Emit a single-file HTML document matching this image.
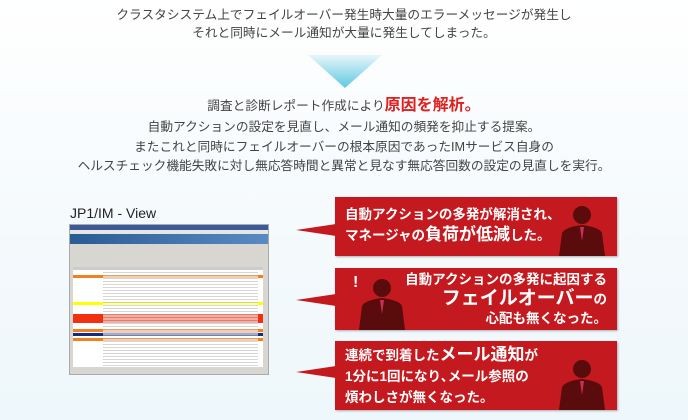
<!DOCTYPE html>
<html><head><meta charset="utf-8"><style>
*{margin:0;padding:0}
body{width:688px;height:420px;overflow:hidden;position:relative;background:linear-gradient(#fff 0%,#f7fbfd 40%,#eef7fb 100%);font-family:"Liberation Sans","Noto Sans CJK JP",sans-serif}
.c{position:absolute;left:0;width:688px;text-align:center;color:#444;font-size:12.7px;line-height:18px;white-space:nowrap}
.box{position:absolute;left:335px;width:282px;background:#c41a1f;box-shadow:1px 1px 2px rgba(0,0,0,.3);color:#fff;font-weight:bold;white-space:nowrap}
.t{position:absolute;font-size:13.5px;line-height:20px}
.big{font-size:17px}
svg{position:absolute}
</style></head><body>
<div class="c" style="top:6px">クラスタシステム上でフェイルオーバー発生時大量のエラーメッセージが発生し</div>
<div class="c" style="top:24px">それと同時にメール通知が大量に発生してしまった。</div>
<svg style="left:300px;top:52px" width="90" height="40"><defs><linearGradient id="g" x1="0" y1="0" x2="0" y2="1"><stop offset="0" stop-color="#e8f6fb"/><stop offset="1" stop-color="#5ec8e0"/></linearGradient></defs><polygon points="8,3 82,3 45,36" fill="url(#g)"/></svg>
<div class="c" style="top:97px">調査と診断レポート作成により<span style="color:#e0201e;font-weight:bold;font-size:16px">原因を解析。</span></div>
<div class="c" style="top:118px">自動アクションの設定を見直し、メール通知の頻発を抑止する提案。</div>
<div class="c" style="top:138px">またこれと同時にフェイルオーバーの根本原因であったIMサービス自身の</div>
<div class="c" style="top:157px">ヘルスチェック機能失敗に対し無応答時間と異常と見なす無応答回数の設定の見直しを実行。</div>
<div style="position:absolute;left:70px;top:205px;font-size:14px;color:#222">JP1/IM - View</div>
<div style="position:absolute;left:69px;top:224px;width:200px;height:151px;background:#d8d6d0;border:1px solid #aaa;box-sizing:border-box;overflow:hidden">
<div style="height:5px;background:#3a5a9a"></div>
<div style="height:4px;background:#e8e6e0"></div>
<div style="height:10px;background:linear-gradient(90deg,#2a5c94,#5a8ac4)"></div>
<div style="position:absolute;left:3px;top:42px;width:190px;height:100px;background:#fff">
<div style="position:absolute;top:0;width:100%;height:3px;background:#ccc"></div>
<div style="position:absolute;top:8px;width:100%;height:3px;background:#f08020"></div>
<div style="position:absolute;top:35px;width:100%;height:3px;background:#ff0"></div>
<div style="position:absolute;top:47px;width:100%;height:9px;background:#f03010"></div>
<div style="position:absolute;top:62px;width:100%;height:3px;background:#f08020"></div>
<div style="position:absolute;top:66px;width:100%;height:3px;background:#1a2a7a"></div>
<div style="position:absolute;top:71px;width:100%;height:3px;background:#f08020"></div>
<div style="position:absolute;left:30px;top:4px;width:155px;height:95px;background:repeating-linear-gradient(#fff 0 1px,#bbb 1px 2px,#fff 2px 3px);opacity:.6"></div>
</div></div>
<svg style="left:296px;top:190px" width="45" height="230"><polygon points="40,34 0,40 40,46" fill="#c41a1f"/><polygon points="40,104 0,110 40,116" fill="#c41a1f"/><polygon points="40,176 0,182 40,188" fill="#c41a1f"/></svg>
<div class="box" style="top:197px;height:59px">
<div class="t" style="left:10px;top:8px">自動アクションの多発が解消され、<br>マネージャの<span class="big">負荷が低減</span>した。</div>
<svg style="left:222px;top:6px" width="50" height="53"><circle cx="25" cy="12" r="9" fill="#5a0c0c"/><path d="M2,53 L5,30 Q8,24 25,22 Q42,24 45,30 L48,53Z" fill="#5a0c0c"/><path d="M23,24 L25,38 L27,24Z" fill="#c83058"/></svg>
</div>
<div class="box" style="top:268px;height:62px">
<div style="position:absolute;left:18px;top:6px;font-size:16px">!</div>
<svg style="left:22px;top:8px" width="50" height="54"><circle cx="25" cy="12" r="9" fill="#5a0c0c"/><path d="M2,54 L5,30 Q8,24 25,22 Q42,24 45,30 L48,54Z" fill="#5a0c0c"/><path d="M23,24 L25,38 L27,24Z" fill="#c83058"/></svg>
<div class="t" style="right:10px;top:2px;text-align:right;line-height:19px">自動アクションの多発に起因する<br><span class="big" style="font-size:19px">フェイルオーバー</span>の<br>心配も無くなった。</div>
</div>
<div class="box" style="top:341px;height:69px">
<div class="t" style="left:10px;top:3px;line-height:21px">連続で到着した<span class="big">メール通知</span>が<br>1分に1回になり､メール参照の<br>煩わしさが無くなった。</div>
<svg style="left:222px;top:16px" width="50" height="53"><circle cx="25" cy="12" r="9" fill="#5a0c0c"/><path d="M2,53 L5,30 Q8,24 25,22 Q42,24 45,30 L48,53Z" fill="#5a0c0c"/><path d="M23,24 L25,38 L27,24Z" fill="#c83058"/></svg>
</div>
</body></html>
